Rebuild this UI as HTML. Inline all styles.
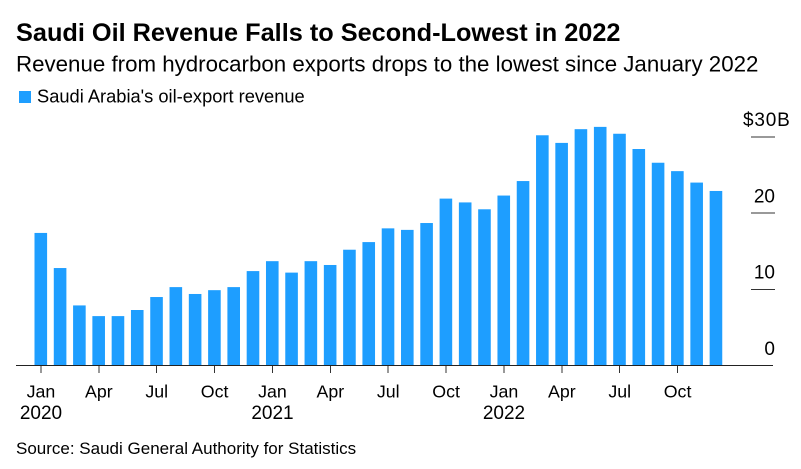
<!DOCTYPE html>
<html>
<head>
<meta charset="utf-8">
<style>
html,body{margin:0;padding:0;background:#fff;}
body{width:801px;height:469px;overflow:hidden;}
svg{display:block;font-family:"Liberation Sans",Arial,sans-serif;fill:#000;}
</style>
</head>
<body>
<svg id="chart" width="801" height="469" viewBox="0 0 801 469">
<text x="16" y="41" font-size="25.300" font-weight="700">Saudi Oil Revenue Falls to Second-Lowest in 2022</text>
<text x="16" y="71.500" font-size="22.300">Revenue from hydrocarbon exports drops to the lowest since January 2022</text>
<rect x="19" y="91" width="12" height="12" fill="#1e9eff"></rect>
<text x="37" y="102.500" font-size="18.300">Saudi Arabia's oil-export revenue</text>
<g id="bars"></g>
<g id="y-axis"></g>
<g id="x-axis"></g>
<text x="16" y="454" font-size="17">Source: Saudi General Authority for Statistics</text>
</svg>
<script>
const months = ['Jan 2020','Feb 2020','Mar 2020','Apr 2020','May 2020','Jun 2020','Jul 2020','Aug 2020','Sep 2020','Oct 2020','Nov 2020','Dec 2020','Jan 2021','Feb 2021','Mar 2021','Apr 2021','May 2021','Jun 2021','Jul 2021','Aug 2021','Sep 2021','Oct 2021','Nov 2021','Dec 2021','Jan 2022','Feb 2022','Mar 2022','Apr 2022','May 2022','Jun 2022','Jul 2022','Aug 2022','Sep 2022','Oct 2022','Nov 2022','Dec 2022'];
const revenue = [17.4,12.8,7.9,6.5,6.5,7.3,9.0,10.3,9.4,9.9,10.3,12.4,13.7,12.2,13.7,13.2,15.2,16.2,18.0,17.8,18.7,21.9,21.4,20.5,22.3,24.2,30.2,29.2,31.0,31.3,30.4,28.4,26.6,25.5,24.0,22.9];
const yTicks = [0,10,20,30];
const yTickLabels = ['0','10','20','$30B'];
const xTickMonths = ['Jan 2020','Apr 2020','Jul 2020','Oct 2020','Jan 2021','Apr 2021','Jul 2021','Oct 2021','Jan 2022','Apr 2022','Jul 2022','Oct 2022'];
const xTickLabels = ['Jan','Apr','Jul','Oct','Jan','Apr','Jul','Oct','Jan','Apr','Jul','Oct'];
const xYearLabels = ['2020','','','','2021','','','','2022','','',''];

const NS = 'http://www.w3.org/2000/svg';
const xScale = function (name) { return 41 + months.indexOf(name) * 19.29; };
const yScale = function (v) { return 365.7 - v * 7.63; };
const make = function (tag, attrs, parent, text) {
  const el = document.createElementNS(NS, tag);
  for (const k in attrs) el.setAttribute(k, attrs[k]);
  if (text !== undefined) el.textContent = text;
  parent.appendChild(el);
  return el;
};

const barsG = document.getElementById('bars');
revenue.forEach(function (v, i) {
  const top = yScale(v);
  const bar = make('rect', {x: xScale(months[i]) - 6.5, y: top, width: 12.6, height: yScale(0) - top, fill: '#1e9eff'}, barsG);
  
  
});

const yG = document.getElementById('y-axis');
yTicks.forEach(function (t, i) {
  const y = yScale(t);
  if (t !== 0) {
    const tick = make('line', {x1: 751, x2: 775, y1: y, y2: y, stroke: '#333', 'stroke-width': 1, 'shape-rendering': 'crispEdges'}, yG);
    
    
  }
  const isMax = yTickLabels[i].charAt(0) === '$';
  const label = make('text', {x: isMax ? 743 : 775, y: y - 10.7, 'text-anchor': isMax ? 'start' : 'end', 'font-size': 19, 'letter-spacing': isMax ? 0.8 : 0}, yG, yTickLabels[i]);
  
  
});

const xG = document.getElementById('x-axis');
const axisLine = make('line', {x1: 16, x2: 773, y1: 365.7, y2: 365.7, stroke: '#222', 'stroke-width': 1, 'shape-rendering': 'crispEdges'}, xG);


xTickMonths.forEach(function (m, i) {
  const x = xScale(m);
  const tick = make('line', {x1: x, x2: x, y1: 366, y2: 373, stroke: '#333', 'stroke-width': 1, 'shape-rendering': 'crispEdges'}, xG);
  
  
  const label = make('text', {x: x, y: 397.3, 'text-anchor': 'middle', 'font-size': 17.8}, xG, xTickLabels[i]);
  
  
  if (xYearLabels[i]) {
    const year = make('text', {x: x, y: 419, 'text-anchor': 'middle', 'font-size': 19}, xG, xYearLabels[i]);
    
    
  }
});
</script>
</body>
</html>
